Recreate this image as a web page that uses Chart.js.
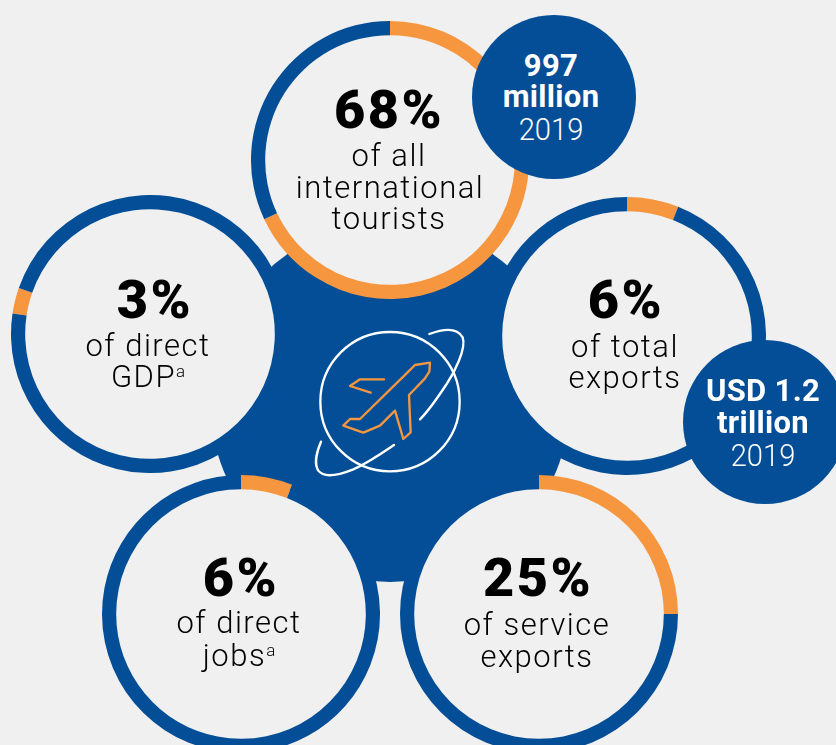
<!DOCTYPE html>
<html>
<head>
<meta charset="utf-8">
<script src="https://cdn.jsdelivr.net/npm/chart.js@4"></script>
<style>
  html, body { margin: 0; padding: 0; width: 836px; height: 745px; overflow: hidden; background: #f0f0f0; }
  body { position: relative; font-family: Roboto, sans-serif; color: #000; }
  .disc { position: absolute; border-radius: 50%; background: #034e97; }
  .ring { position: absolute; width: 278px; height: 278px; background: radial-gradient(circle closest-side, #f0f0f0 95%, transparent 95%); }
  .txt { position: absolute; white-space: nowrap; transform: translateX(-50%); }
  .big { font-size: 54px; line-height: 52px; font-weight: 900; letter-spacing: 2.5px; color: #000; }
  .sub { font-size: 31px; line-height: 32px; font-weight: 300; letter-spacing: 1.5px; }
  .sub sup { font-size: 17px; line-height: 0; vertical-align: 10px; letter-spacing: 0; }
  .badge { font-size: 31px; line-height: 32px; font-weight: 700; color: #fff; letter-spacing: 0.3px; }
  .year { font-size: 31px; line-height: 32px; font-weight: 300; color: #fff; letter-spacing: 0; transform: translateX(-50%) scaleX(0.94); }
  svg { position: absolute; left: 300px; top: 310px; overflow: visible; }
</style>
</head>
<body>
<div class="disc" style="left:210px;top:222px;width:360px;height:360px"></div>
<svg width="180" height="180" viewBox="0 0 540 540" fill="none" stroke-linecap="round" stroke-linejoin="round">
  <circle cx="270" cy="275" r="209" stroke="#fff" stroke-width="7"/>
  <path d="M388 72 C425 58 470 50 488 82 C500 115 462 190 440 222 C415 260 390 298 360 328" stroke="#fff" stroke-width="7"/>
  <path d="M282 405 C245 430 205 458 160 478 C120 494 72 505 55 482 C42 462 50 425 63 395" stroke="#fff" stroke-width="7"/>
  <path d="M390 158 L345 165 L325 185 L180 327 L150 327 L130 347 L190 368 L240 347 L285 302 L310 387 L332 367 L327 255 L375 205 L388 185 Z" stroke="#f6963f" stroke-width="7"/>
  <path d="M252 208 L180 208 L150 228 L212 248" stroke="#f6963f" stroke-width="7"/>
</svg>
<canvas id="ringTourists" class="ring" width="278" height="278" style="left:251px;top:21px"></canvas>
<canvas id="ringGdp" class="ring" width="278" height="278" style="left:11px;top:195px"></canvas>
<canvas id="ringExports" class="ring" width="278" height="278" style="left:488px;top:197px"></canvas>
<canvas id="ringJobs" class="ring" width="278" height="278" style="left:102px;top:475px"></canvas>
<canvas id="ringServices" class="ring" width="278" height="278" style="left:400px;top:475px"></canvas>
<div class="disc" style="left:471.5px;top:15px;width:164px;height:164px"></div>
<div class="disc" style="left:683px;top:340px;width:164px;height:164px"></div>
<script>
const categories = ['of all international tourists', 'of direct GDP', 'of total exports', 'of direct jobs', 'of service exports'];
const shareValues = [68, 3, 6, 6, 25];
const restValues = [32, 97, 94, 94, 75];

const ringIds = ['ringTourists', 'ringGdp', 'ringExports', 'ringJobs', 'ringServices'];
const ringRotations = [0, 278.5, 0, 0, 0];

categories.forEach((name, i) => {
  const ctx = document.getElementById(ringIds[i]).getContext('2d');
  new Chart(ctx, {
    type: 'doughnut',
    data: {
      labels: [name, 'Other'],
      datasets: [{
        data: [shareValues[i], restValues[i]],
        backgroundColor: ['#f6963f', '#034e97'],
        borderWidth: 0
      }]
    },
    options: {
      responsive: false,
      animation: false,
      cutout: '89.8%',
      rotation: ringRotations[i],
      plugins: {
        legend: { display: false },
        tooltip: { enabled: false }
      }
    }
  });
});

// puts a line of text so that its baseline sits at y
const place = (html, x, y, cls, size, lineHeight) => {
  const el = document.createElement('div');
  el.className = 'txt ' + cls;
  el.innerHTML = html;
  el.style.left = x + 'px';
  el.style.top = (y - lineHeight / 2 - 0.342 * size) + 'px';
  document.body.appendChild(el);
};
const big = (t, x, y) => place(t, x, y, 'big', 54, 52);
const sub = (t, x, y) => place(t, x, y, 'sub', 31, 32);

big(shareValues[0] + '%', 389, 128);
sub('of all', 389, 167);
sub('international', 390, 199);
sub('tourists', 389, 230);

big(shareValues[1] + '%', 155, 318);
sub('of direct', 148, 357);
sub('GDP<sup>a</sup>', 148, 388);

big(shareValues[2] + '%', 626, 318);
sub('of total', 625, 358);
sub('exports', 625, 389);

big(shareValues[3] + '%', 241, 596);
sub('of direct', 239, 634);
sub('jobs<sup>a</sup>', 239, 667);

big(shareValues[4] + '%', 538, 596);
sub('of service', 537, 636);
sub('exports', 537, 668);

place('997', 551, 77, 'badge', 31, 32);
place('million', 551, 108, 'badge', 31, 32);
place('2019', 551, 141, 'year', 31, 32);

place('USD 1.2', 763, 402, 'badge', 31, 32);
place('trillion', 763, 434, 'badge', 31, 32);
place('2019', 763, 467, 'year', 31, 32);
</script>
</body>
</html>
